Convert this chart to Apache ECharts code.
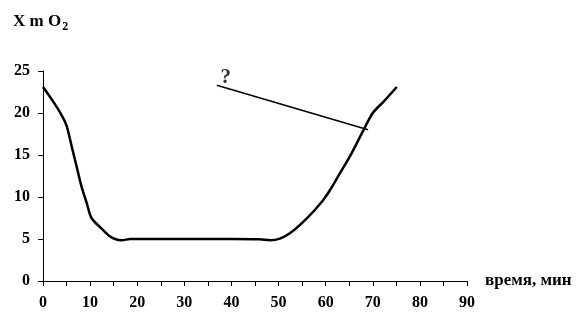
<!DOCTYPE html>
<html>
<head>
<meta charset="utf-8">
<script src="https://cdn.jsdelivr.net/npm/echarts@6/dist/echarts.min.js"></script>
<style>html,body{margin:0;padding:0;background:#fff}#c{width:584px;height:325px}</style>
</head>
<body>
<div id="c"></div>
<script>
// Data
var curveX = [0, 2, 4, 5, 6.1, 7.15, 8.2, 9.3, 10.3, 12.5, 14, 15.3, 16.7, 18.5, 20, 30, 40, 46, 48.2, 50.3, 52.4, 56, 59.2, 60.9, 63, 65.5, 67.7, 70, 72.2, 75.1];
var curveY = [23.1, 21.5, 19.7, 18.5, 16.0, 13.6, 11.2, 9.25, 7.5, 6.2, 5.4, 5.0, 4.85, 5.0, 5.0, 5.0, 5.0, 4.96, 4.85, 5.05, 5.67, 7.46, 9.44, 10.8, 12.8, 15.2, 17.6, 20.0, 21.3, 23.1];
var pointerX = [36.9, 69.0];
var pointerY = [23.3, 18.0];
var questionPos = [38.8, 24.2];
var questionText = '?';
var xTicks = [0, 10, 20, 30, 40, 50, 60, 70, 80, 90];
var yTicks = [0, 5, 10, 15, 20, 25];
var yTitle = 'X m O';
var ySub = '2';
var xTitle = 'время, мин';

var font = '"Liberation Serif", "Times New Roman", serif';
var curve = curveX.map(function (x, i) { return [x, curveY[i]]; });
var pointer = pointerX.map(function (x, i) { return [x, pointerY[i]]; });

var chart = echarts.init(document.getElementById('c'), null, {renderer: 'canvas'});
chart.setOption({
  backgroundColor: '#fff',
  animation: false,
  title: {
    text: '{a|' + yTitle + '}{s|' + ySub + '}',
    left: 8, top: 5,
    textStyle: {
      rich: {
        a: {fontFamily: font, fontWeight: 'bold', fontSize: 17, color: '#000', verticalAlign: 'bottom', lineHeight: 20},
        s: {fontFamily: font, fontWeight: 'bold', fontSize: 12, color: '#000', verticalAlign: 'bottom', lineHeight: 16, padding: [0, 0, -3, 1]}
      }
    }
  },
  grid: {left: 43, right: 117, top: 71, bottom: 44, containLabel: false},
  xAxis: {
    type: 'value', min: xTicks[0], max: xTicks[xTicks.length - 1], interval: 10,
    name: xTitle, nameLocation: 'end', nameGap: 18,
    nameTextStyle: {fontFamily: font, fontWeight: 'bold', fontSize: 17, color: '#000', verticalAlign: 'middle', padding: [0, 0, 8, 0]},
    axisLine: {show: true, lineStyle: {color: '#000', width: 1}},
    axisTick: {show: true, length: 5, lineStyle: {color: '#000'}},
    minorTick: {show: true, splitNumber: 2, length: 5, lineStyle: {color: '#000'}},
    splitLine: {show: false},
    axisLabel: {fontFamily: font, fontWeight: 'bold', fontSize: 16, color: '#000', margin: 14}
  },
  yAxis: {
    type: 'value', min: yTicks[0], max: yTicks[yTicks.length - 1], interval: 5,
    axisLine: {show: true, lineStyle: {color: '#000', width: 1}},
    axisTick: {show: true, length: 5, lineStyle: {color: '#000'}},
    splitLine: {show: false},
    axisLabel: {fontFamily: font, fontWeight: 'bold', fontSize: 16, color: '#000', margin: 13}
  },
  series: [
    {
      type: 'line', data: curve, smooth: 0.3, symbol: 'none',
      lineStyle: {color: '#000', width: 2.5}
    },
    {
      type: 'line', data: pointer, symbol: 'none',
      lineStyle: {color: '#000', width: 1.5}
    },
    {
      type: 'scatter', data: [questionPos], symbolSize: 0,
      label: {show: true, position: 'inside', formatter: questionText, fontFamily: font, fontWeight: 'bold', fontSize: 21, color: '#000'}
    }
  ]
});
</script>
</body>
</html>
